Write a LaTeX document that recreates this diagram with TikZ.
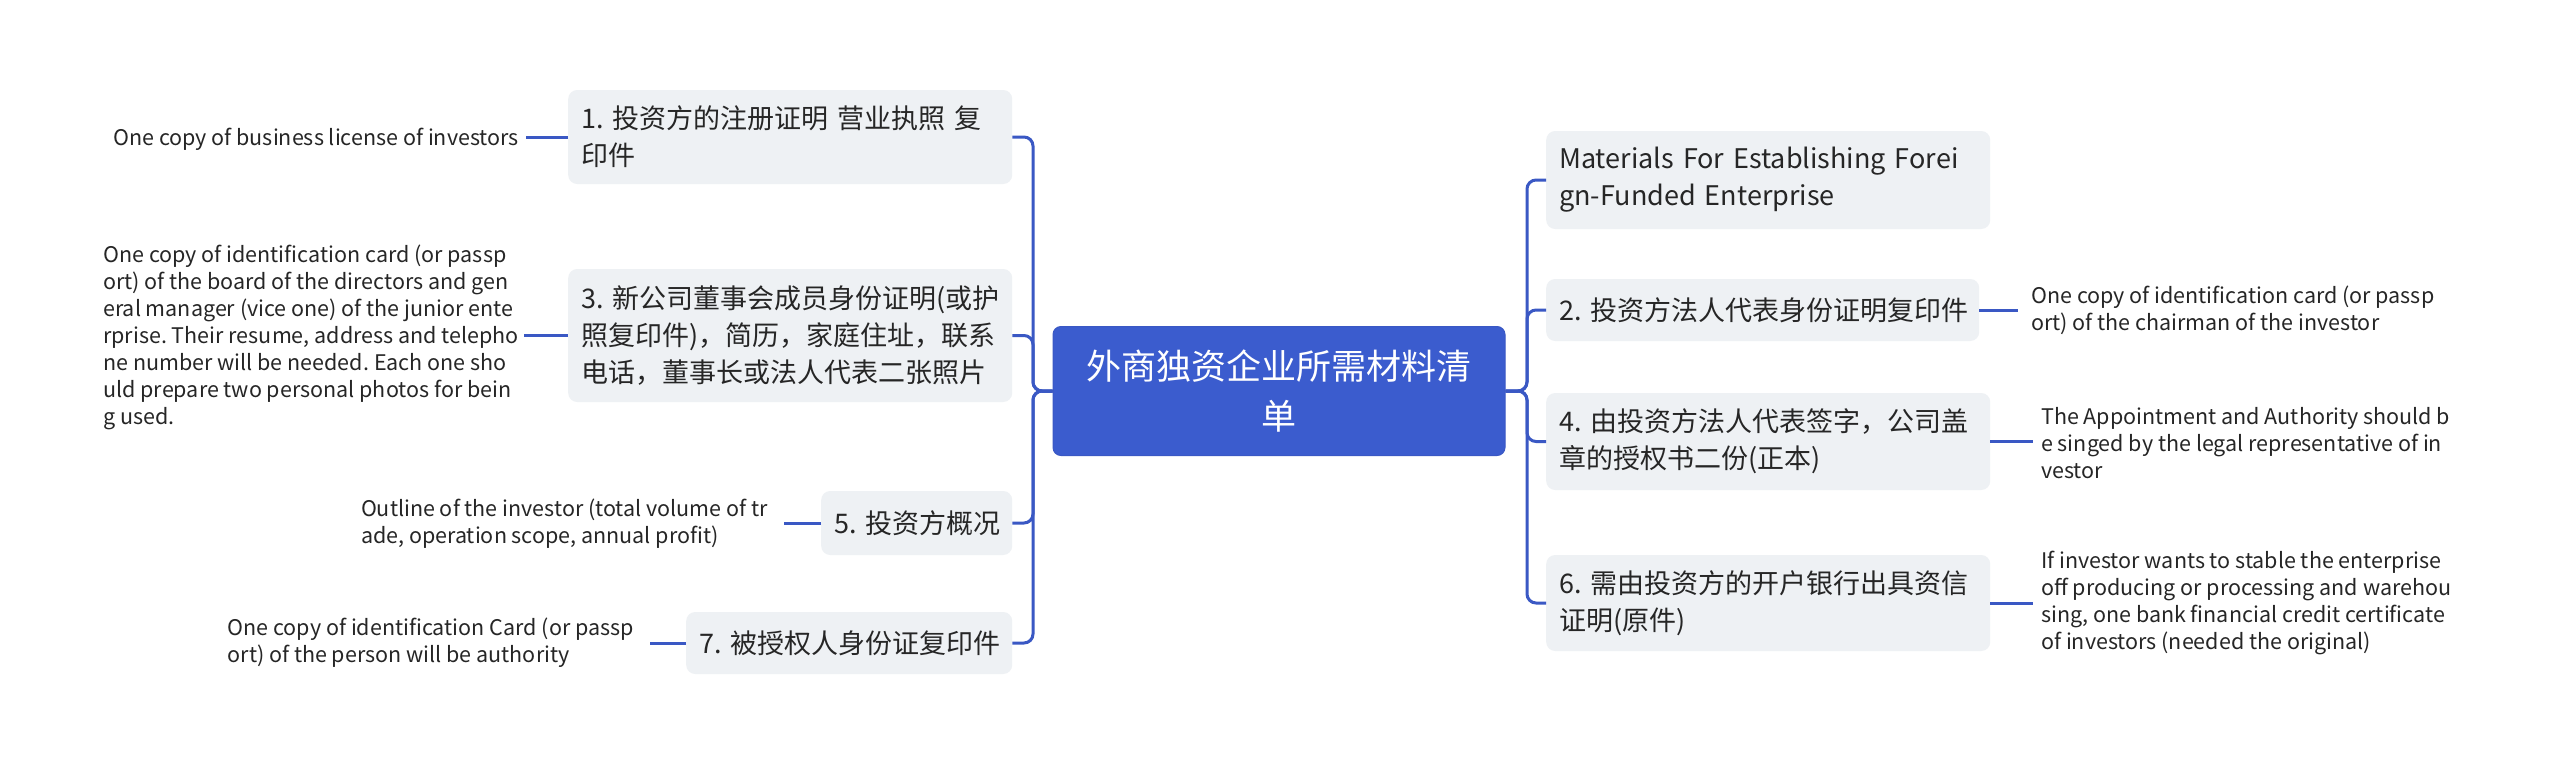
\documentclass[tikz,border=0pt]{standalone}
\usepackage{fontspec}
\setmainfont{Noto Sans CJK SC}
\definecolor{linec}{HTML}{3A58C4}
\definecolor{rootc}{HTML}{3B5CCE}
\definecolor{boxc}{HTML}{EEF1F4}
\definecolor{txtc}{HTML}{262626}
\begin{document}
\begin{tikzpicture}[x=1pt,y=-1pt,
  conn/.style={draw=linec,line width=3pt,rounded corners=9pt},
  rootbox/.style={rectangle,rounded corners=8pt,fill=rootc,draw=linec,line width=1pt,text=white,
    align=center,font=\fontsize{35}{50}\selectfont,minimum width=452pt,minimum height=129pt,inner sep=0pt},
  topic/.style={rectangle,rounded corners=9pt,fill=boxc,text=txtc,align=left,anchor=west,
    font=\fontsize{27}{37}\selectfont\frenchspacing,inner xsep=13pt,inner ysep=0pt},
  leafL/.style={text=txtc,align=left,anchor=east,font=\fontsize{21.5}{27}\selectfont\frenchspacing,inner xsep=0pt,inner ysep=0pt},
  leafR/.style={leafL,anchor=west},
]
\useasboundingbox (0,0) rectangle (2560,771);
\fill[white] (0,0) rectangle (2560,771);

\coordinate (tl) at (1033,391);
\coordinate (tr) at (1527,391);

\node[rootbox] (root) at (1279,391) {外商独资企业所需材料清\\单};

% left topics
\node[topic,text width=418pt,minimum height=94pt] (t1) at (568,137) {1. 投资方的注册证明 营业执照 复\\印件};
\node[topic,text width=418pt,minimum height=133pt] (t3) at (568,335.5) {3. 新公司董事会成员身份证明(或护\\照复印件)，简历，家庭住址，联系\\电话，董事长或法人代表二张照片};
\node[topic,text width=165pt,minimum height=64pt] (t5) at (821,523) {\mbox{5. 投资方概况}};
\node[topic,text width=300pt,minimum height=62pt] (t7) at (686,643) {\mbox{7. 被授权人身份证复印件}};

% right topics
\node[topic,text width=418pt,minimum height=98pt] (tm) at (1546,180) {Materials For Establishing Forei\\gn-Funded Enterprise};
\node[topic,text width=407pt,minimum height=62pt] (t2) at (1546,310) {\mbox{2. 投资方法人代表身份证明复印件}};
\node[topic,text width=418pt,minimum height=97pt] (t4) at (1546,441.5) {4. 由投资方法人代表签字，公司盖\\章的授权书二份(正本)};
\node[topic,text width=418pt,minimum height=96pt] (t6) at (1546,603) {6. 需由投资方的开户银行出具资信\\证明(原件)};

% left leaves
\node[leafL] (l1) at (519,139) {One copy of business license of investors};
\node[leafL] (l3) at (519,337) {One copy of identification card (or passp\\ort) of the board of the directors and gen\\eral manager (vice one) of the junior ente\\rprise. Their resume, address and telepho\\ne number will be needed. Each one sho\\uld prepare two personal photos for bein\\g used.};
\node[leafL] (l5) at (768,524) {Outline of the investor (total volume of tr\\ade, operation scope, annual profit)};
\node[leafL] (l7) at (634,642.5) {One copy of identification Card (or passp\\ort) of the person will be authority};

% right leaves
\node[leafR] (l2) at (2031,310) {One copy of identification card (or passp\\ort) of the chairman of the investor};
\node[leafR] (l4) at (2041,443) {The Appointment and Authority should b\\e singed by the legal representative of in\\vestor};
\node[leafR] (l6) at (2041,602.5) {If investor wants to stable the enterprise\\off producing or processing and warehou\\sing, one bank financial credit certificate\\of investors (needed the original)};

% root to topics
\foreach \t in {t1,t3,t5,t7} {
  \draw[conn] (root.west) -- (tl) |- (\t.east);
}
\foreach \t in {tm,t2,t4,t6} {
  \draw[conn] (root.east) -- (tr) |- (\t.west);
}

% topics to leaves
\draw[conn] (t1.west) -- ++(-42,0);
\draw[conn] (t3.west) -- ++(-44,0);
\draw[conn] (t5.west) -- ++(-37,0);
\draw[conn] (t7.west) -- ++(-36,0);
\draw[conn] (t2.east) -- ++(39,0);
\draw[conn] (t4.east) -- ++(43,0);
\draw[conn] (t6.east) -- ++(43,0);
\end{tikzpicture}
\end{document}
